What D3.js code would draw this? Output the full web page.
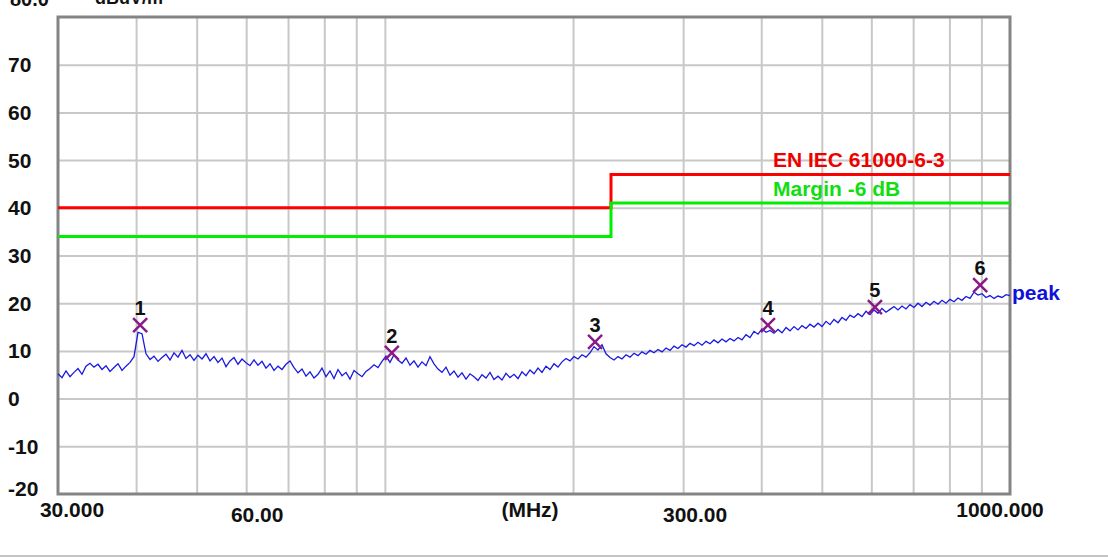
<!DOCTYPE html>
<html>
<head>
<meta charset="utf-8">
<script src="https://cdn.jsdelivr.net/npm/d3@7"></script>
<style>
  body { margin: 0; background: #fff; }
  svg { display: block; font-family: 'Liberation Sans', Arial, sans-serif; font-weight: bold; }
</style>
</head>
<body>
<svg id="chart" width="1108" height="558"></svg>
<script>
// peak sweep, dBuV/m, samples evenly spaced on the log frequency axis
const sweepStart = 30;
const sweepStop = 1000;
const traceLevel = [
    5.2, 4.4, 5.8, 4.6, 5.5, 6.3, 5.1, 6.8, 7.4, 6.6,
    7.2, 6.1, 6.9, 5.7, 6.5, 7.3, 5.9, 6.8, 7.6, 8.8,
    13.9, 13.6, 9.4, 8.2, 8.9, 7.8, 8.6, 9.3, 8.1, 9.6,
    8.7, 10.1, 8.4, 9.2, 8.0, 9.1, 8.3, 9.4, 7.9, 8.8,
    7.6, 8.5, 6.7, 7.9, 8.6, 7.2, 8.3, 7.5, 6.9, 8.1,
    7.0, 7.8, 6.4, 7.3, 5.9, 6.8, 6.1, 7.2, 7.9, 6.5,
    5.4, 6.2, 4.7, 5.6, 4.3, 5.1, 6.4, 4.6, 5.8, 4.2,
    6.1, 4.8, 5.5, 4.1, 5.9, 5.2, 4.6, 5.7, 6.3, 7.1,
    6.5, 7.8, 8.9, 7.6, 9.2, 8.1, 7.4, 8.5, 7.0, 7.9,
    6.6, 7.7, 6.9, 8.8, 7.3, 6.2, 5.5, 6.6, 4.9, 5.8,
    4.5, 5.4, 4.1, 5.2, 4.6, 3.8, 5.0, 4.3, 5.5, 4.0,
    4.7, 3.9, 5.3, 4.4, 5.1, 4.2, 5.6, 4.8, 6.0, 5.2,
    6.4, 5.5, 6.8, 6.1, 7.3, 6.6, 7.7, 8.4, 7.9, 8.8,
    8.3, 9.2, 8.7, 9.6, 10.9, 10.2, 11.3, 9.4, 8.6, 8.1,
    8.8, 8.3, 9.2, 8.7, 9.5, 9.0, 9.8, 9.3, 10.1, 9.6,
    10.3, 9.8, 10.6, 10.1, 11.0, 10.5, 11.3, 10.8, 11.6, 11.1,
    11.8, 11.2, 12.0, 11.5, 12.3, 11.7, 12.5, 11.9, 12.6, 12.1,
    12.8, 12.3, 13.4, 12.8, 14.1, 13.5, 14.6, 13.9, 14.3, 13.7,
    14.5, 13.8, 14.9, 14.2, 15.1, 14.4, 15.3, 14.7, 15.6, 15.0,
    15.8, 15.1, 16.2, 15.5, 16.6, 15.9, 17.0, 16.4, 17.5, 17.0,
    17.8, 17.2, 18.3, 17.6, 18.6, 17.9, 18.9, 18.1, 18.7, 19.3,
    18.6, 19.4, 18.8, 19.7, 19.1, 20.0, 19.3, 20.2, 19.6, 20.4,
    19.8, 20.6, 20.0, 20.8, 20.3, 21.1, 20.6, 21.4, 21.0, 22.3,
    21.7, 22.0, 21.2, 21.6, 21.0, 21.5, 21.2, 21.8, 21.6
];

// limit and margin lines
const limitFreq = [30, 230, 230, 1000];
const limitLevel = [40, 40, 47, 47];
const marginLevel = [34, 34, 41, 41];
const limitName = 'EN IEC 61000-6-3';
const marginName = 'Margin -6 dB';

// peak markers
const markerLabel = ['1', '2', '3', '4', '5', '6'];
const markerFreq = [40.6, 102.6, 216.9, 410, 608, 896];
const markerLevel = [15.4, 9.6, 11.9, 15.4, 19.2, 23.8];

// axes
const yTicks = [-20, -10, 0, 10, 20, 30, 40, 50, 60, 70];
const xGridFreq = [40, 50, 60, 70, 80, 90, 100, 200, 300, 400, 500, 600, 700, 800, 900];
const xTickFreq = [30, 60, 300, 1000];
const xTickLabel = ['30.000', '60.00', '300.00', '1000.000'];

const plot = {left: 58, top: 17, right: 1010, bottom: 494};

const svg = d3.select('#chart');

const xScale = d3.scaleLog()
    .domain([sweepStart, sweepStop])
    .range([plot.left, plot.right]);
const yScale = d3.scaleLinear()
    .domain([-20, 80])
    .range([plot.bottom, plot.top]);

//grids
svg.append('g')
    .attr('transform', `translate(0, ${plot.bottom})`)
    .call(d3.axisBottom(xScale).tickValues(xGridFreq).tickSize(-(plot.bottom - plot.top)).tickFormat(''))
    .call(g => g.select('.domain').remove())
    .selectAll('line').attr('stroke', '#c8c8c8').attr('stroke-width', 2);
svg.append('g')
    .attr('transform', `translate(${plot.left}, 0)`)
    .call(d3.axisLeft(yScale).tickValues(yTicks.filter(d => d > -20)).tickSize(-(plot.right - plot.left)).tickFormat(''))
    .call(g => g.select('.domain').remove())
    .selectAll('line').attr('stroke', '#c8c8c8').attr('stroke-width', 2);

//frame
svg.append('rect')
    .attr('x', plot.left)
    .attr('y', plot.top)
    .attr('width', plot.right - plot.left)
    .attr('height', plot.bottom - plot.top)
    .attr('fill', 'none')
    .attr('stroke', '#848484')
    .attr('stroke-width', 3);

//y labels
svg.append('g')
    .selectAll('text')
    .data(yTicks)
    .enter().append('text')
    .attr('x', 8)
    .attr('y', d => yScale(d) + (d === -20 ? -6 : 0))
    .attr('dy', '0.36em')
    .attr('font-size', 21)
    .attr('fill', '#111')
    .text(d => d);

// header above the plot, cut by the window top like in the capture
svg.append('text').attr('x', 10).attr('y', 6).attr('font-size', 20).attr('fill', '#111').text('80.0');
svg.append('text').attr('x', 95).attr('y', 4).attr('font-size', 18).attr('fill', '#111').text('dBuV/m');

//x labels
const xNudge = [14, 11, 12, -10];
const xBase = [517, 522, 522, 517];
svg.append('g')
    .selectAll('text')
    .data(xTickFreq)
    .enter().append('text')
    .attr('x', (d, i) => xScale(d) + xNudge[i])
    .attr('y', (d, i) => xBase[i])
    .attr('text-anchor', 'middle')
    .attr('font-size', 21)
    .attr('fill', '#111')
    .text((d, i) => xTickLabel[i]);
svg.append('text')
    .attr('x', 530)
    .attr('y', 517)
    .attr('text-anchor', 'middle')
    .attr('font-size', 21)
    .attr('fill', '#111')
    .text('(MHz)');

//limits
const stepLine = levels => d3.line()
    .x(d => xScale(d))
    .y((d, i) => yScale(levels[i]))(limitFreq);
svg.append('path')
    .attr('d', stepLine(limitLevel))
    .attr('fill', 'none')
    .attr('stroke', '#ff0000')
    .attr('stroke-width', 3);
svg.append('path')
    .attr('d', stepLine(marginLevel))
    .attr('fill', 'none')
    .attr('stroke', '#00ee00')
    .attr('stroke-width', 3);
svg.append('text')
    .attr('x', 773).attr('y', 167)
    .attr('font-size', 21)
    .attr('fill', '#ee0000')
    .text(limitName);
svg.append('text')
    .attr('x', 773).attr('y', 196)
    .attr('font-size', 21)
    .attr('fill', '#11dd11')
    .text(marginName);

//trace
const n = traceLevel.length;
const traceFreq = traceLevel.map((_, i) => sweepStart * Math.pow(sweepStop / sweepStart, i / (n - 1)));
svg.append('path')
    .attr('d', d3.line().x((d, i) => xScale(traceFreq[i])).y(d => yScale(d))(traceLevel))
    .attr('fill', 'none')
    .attr('stroke', '#1a1ae0')
    .attr('stroke-width', 1.3);
svg.append('text')
    .attr('x', plot.right + 2)
    .attr('y', yScale(traceLevel[n - 1]) + 4)
    .attr('font-size', 21)
    .attr('fill', '#1010dd')
    .text('peak');

//markers
const markers = svg.append('g')
    .selectAll('g')
    .data(markerFreq)
    .enter().append('g')
    .attr('transform', (d, i) => `translate(${xScale(d)}, ${yScale(markerLevel[i])})`);
markers.append('path')
    .attr('d', 'M-7,-7L7,7M-7,7L7,-7')
    .attr('stroke', '#8a1a86')
    .attr('stroke-width', 2.5);
markers.append('text')
    .attr('y', -10)
    .attr('text-anchor', 'middle')
    .attr('font-size', 20)
    .attr('fill', '#111')
    .text((d, i) => markerLabel[i]);

// window edge
svg.append('line')
    .attr('x1', 0).attr('x2', 1108)
    .attr('y1', 556).attr('y2', 556)
    .attr('stroke', '#c4c4c4')
    .attr('stroke-width', 2);
</script>
</body>
</html>
